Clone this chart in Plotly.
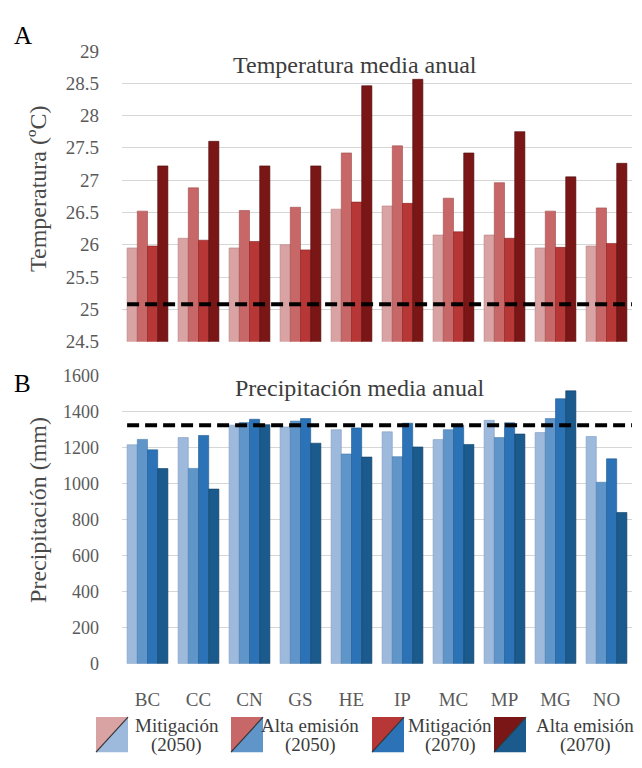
import plotly.graph_objects as go

categories = ["BC", "CC", "CN", "GS", "HE", "IP", "MC", "MP", "MG", "NO"]
series_names = ["Mitigación (2050)", "Alta emisión (2050)", "Mitigación (2070)", "Alta emisión (2070)"]

temp_mit_2050 = [25.95, 26.1, 25.95, 26.0, 26.55, 26.6, 26.15, 26.15, 25.95, 25.98]
temp_alta_2050 = [26.52, 26.88, 26.53, 26.58, 27.42, 27.53, 26.72, 26.96, 26.52, 26.57]
temp_mit_2070 = [25.98, 26.07, 26.05, 25.92, 26.66, 26.64, 26.2, 26.1, 25.96, 26.02]
temp_alta_2070 = [27.22, 27.6, 27.22, 27.22, 28.46, 28.56, 27.42, 27.75, 27.05, 27.26]
temp_ref = 25.08

prec_mit_2050 = [1216, 1256, 1325, 1315, 1300, 1288, 1245, 1352, 1284, 1262]
prec_alta_2050 = [1246, 1085, 1340, 1348, 1165, 1150, 1300, 1256, 1362, 1008]
prec_mit_2070 = [1188, 1268, 1358, 1362, 1310, 1336, 1326, 1338, 1472, 1138]
prec_alta_2070 = [1084, 970, 1328, 1225, 1148, 1204, 1218, 1276, 1516, 840]
prec_ref = 1325

temp_ticks = [24.5, 25, 25.5, 26, 26.5, 27, 27.5, 28, 28.5, 29]
temp_ticklabels = ["24.5", "25", "25.5", "26", "26.5", "27", "27.5", "28", "28.5", "29"]
prec_ticks = [0, 200, 400, 600, 800, 1000, 1200, 1400, 1600]

legend_line1 = ["Mitigación", "Alta emisión", "Mitigación", "Alta emisión"]
legend_line2 = ["(2050)", "(2050)", "(2070)", "(2070)"]

red_colors = ["#d9a3a3", "#c86767", "#b73636", "#7a1616"]
red_lines = ["#b88080", "#9e4a4a", "#8a2020", "#4f0a0a"]
blue_colors = ["#9dbadd", "#5f95c9", "#2b73b6", "#1b5a8c"]
blue_lines = ["#7f9cc0", "#467aad", "#1d5a94", "#103e63"]

W, H = 642, 768
def px(x):
    return x / W
def py(y):
    return 1 - y / H

FONT = "Liberation Serif"
GRAY = "#5a5a5a"

fig = go.Figure()

temp_series = [temp_mit_2050, temp_alta_2050, temp_mit_2070, temp_alta_2070]
prec_series = [prec_mit_2050, prec_alta_2050, prec_mit_2070, prec_alta_2070]

for i, vals in enumerate(temp_series):
    fig.add_trace(go.Bar(x=categories, y=vals, name=series_names[i], xaxis="x", yaxis="y",
                         marker=dict(color=red_colors[i], line=dict(color=red_lines[i], width=0.6)),
                         showlegend=False))
for i, vals in enumerate(prec_series):
    fig.add_trace(go.Bar(x=categories, y=vals, name=series_names[i], xaxis="x2", yaxis="y2",
                         marker=dict(color=blue_colors[i], line=dict(color=blue_lines[i], width=0.6)),
                         showlegend=False))

xdom = [px(122), px(632)]
fig.update_layout(
    width=W, height=H,
    margin=dict(l=0, r=0, t=0, b=0),
    plot_bgcolor="white", paper_bgcolor="white",
    barmode="group", bargap=0.2, bargroupgap=0,
    font=dict(family=FONT, color=GRAY),
    xaxis=dict(domain=xdom, anchor="y", showticklabels=False, showgrid=False,
               zeroline=False, showline=False, ticks=""),
    yaxis=dict(domain=[py(341), py(42)], range=[24.5, 29], tickvals=temp_ticks,
               ticktext=temp_ticklabels, showgrid=True, gridcolor="#d6d6d6", gridwidth=1,
               zeroline=False, showline=False, ticks="", ticklabelstandoff=22,
               tickfont=dict(family=FONT, size=19, color=GRAY)),
    xaxis2=dict(domain=xdom, anchor="y2", showgrid=False, zeroline=False, showline=False,
                ticks="", tickfont=dict(family=FONT, size=19, color=GRAY), ticklabelstandoff=22),
    yaxis2=dict(domain=[py(672), py(376)], range=[0, 1600], tickvals=prec_ticks,
                showgrid=True, gridcolor="#d6d6d6", gridwidth=1, zeroline=False,
                showline=False, ticks="", ticklabelstandoff=22,
                tickfont=dict(family=FONT, size=18, color=GRAY)),
)

# reference dashed lines
fig.add_shape(type="line", xref="x domain", yref="y", x0=0.01, x1=1.0, y0=temp_ref, y1=temp_ref,
              line=dict(color="black", width=4, dash="12px,6px"))
fig.add_shape(type="line", xref="x2 domain", yref="y2", x0=0.01, x1=1.0, y0=prec_ref, y1=prec_ref,
              line=dict(color="black", width=4, dash="12px,6px"))

def ann(text, x, y, size, color, angle=0):
    fig.add_annotation(text=text, xref="paper", yref="paper", x=px(x), y=py(y),
                       xanchor="center", yanchor="middle", showarrow=False, textangle=angle,
                       font=dict(family=FONT, size=size, color=color))

# axis titles
ann("Temperatura (ºC)", 38, 184, 24, "#4a4a4a", -90)
ann("Precipitación (mm)", 38, 514, 24, "#4a4a4a", -90)

# titles inside plots and panel letters
ann("Temperatura media anual", 355, 57, 24, "#3c3c3c")
ann("Precipitación media anual", 360, 389, 24, "#3c3c3c")
ann("A", 23, 26, 25, "black")
ann("B", 23, 384, 25, "black")

# custom legend: split squares (red upper-left, blue lower-right)
sq_x = [96, 231, 372, 494]
txt_x = [177, 310, 450, 585]
sq_w, y0s, y1s = 32, 727, 763
for i in range(4):
    xa, xb = px(sq_x[i]), px(sq_x[i] + sq_w)
    ya, yb = py(y1s), py(y0s)
    fig.add_shape(type="path", xref="paper", yref="paper",
                  path=f"M {xa} {ya} L {xa} {yb} L {xb} {yb} Z",
                  fillcolor=red_colors[i], line=dict(width=0))
    fig.add_shape(type="path", xref="paper", yref="paper",
                  path=f"M {xa} {ya} L {xb} {yb} L {xb} {ya} Z",
                  fillcolor=blue_colors[i], line=dict(width=0))
    fig.add_shape(type="line", xref="paper", yref="paper", x0=xa, y0=ya, x1=xb, y1=yb,
                  line=dict(color="#333333", width=1.2))
    ann(legend_line1[i], txt_x[i], 736, 19, "#3c3c3c")
    ann(legend_line2[i], txt_x[i], 756, 19, "#3c3c3c")

fig.write_html("out.html")
